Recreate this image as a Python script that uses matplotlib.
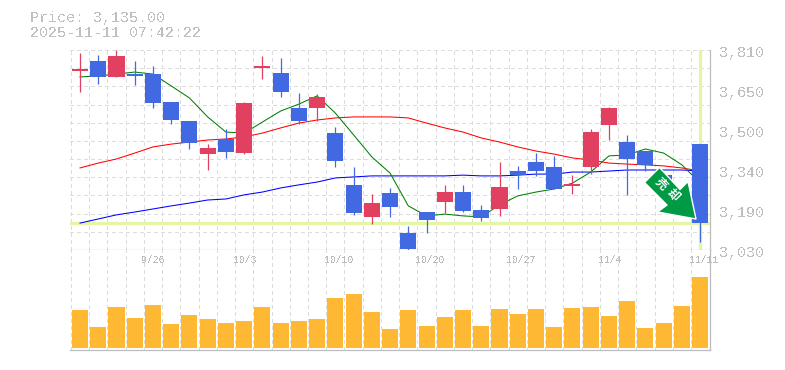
import matplotlib
matplotlib.use("Agg")
import matplotlib.pyplot as plt
from matplotlib.patches import Polygon, Rectangle
from matplotlib.transforms import Affine2D

W, H = 785, 370

title_price = "Price: 3,135.00"
title_time = "2025-11-11 07:42:22"

# candles, oldest first
opens = [3728, 3767, 3705, 3716, 3716, 3607, 3533, 3404, 3463, 3408, 3740, 3720,
         3584, 3584, 3486, 3284, 3159, 3252, 3096, 3178, 3217, 3256, 3186, 3190,
         3338, 3373, 3354, 3280, 3354, 3517, 3451, 3416, 3322, 3264, 3443]
highs = [3798, 3790, 3810, 3767, 3748, 3607, 3533, 3443, 3502, 3607, 3787, 3779,
         3642, 3638, 3510, 3354, 3248, 3272, 3124, 3178, 3284, 3284, 3206, 3373,
         3358, 3408, 3397, 3322, 3502, 3588, 3479, 3416, 3322, 3264, 3443]
lows = [3646, 3677, 3705, 3673, 3584, 3521, 3424, 3342, 3389, 3404, 3697, 3627,
        3521, 3533, 3354, 3167, 3131, 3159, 3030, 3096, 3174, 3178, 3143, 3163,
        3268, 3319, 3268, 3248, 3326, 3459, 3245, 3338, 3245, 3206, 3061]
closes = [3736, 3705, 3787, 3709, 3603, 3537, 3447, 3428, 3412, 3603, 3748, 3646,
          3533, 3627, 3377, 3174, 3213, 3198, 3034, 3147, 3256, 3182, 3155, 3276,
          3322, 3338, 3268, 3287, 3490, 3584, 3385, 3362, 3245, 3206, 3135]
volumes = [38, 21, 41, 30, 43, 24, 33, 29, 25, 27, 41, 25, 27, 29, 50, 54, 36, 19,
           38, 22, 31, 38, 22, 39, 34, 39, 21, 40, 41, 32, 47, 20, 25, 42, 71]

# moving averages
ma_short = [3705, 3709, 3716, 3724, 3716, 3670, 3623, 3549, 3490, 3486, 3529, 3572,
            3599, 3631, 3564, 3479, 3393, 3330, 3202, 3163, 3170, 3163, 3159, 3206,
            3241, 3256, 3268, 3291, 3334, 3397, 3401, 3424, 3408, 3362, 3291]
ma_mid = [3350, 3369, 3385, 3408, 3432, 3443, 3451, 3459, 3463, 3471, 3486, 3506,
          3525, 3537, 3545, 3549, 3549, 3549, 3545, 3525, 3506, 3490, 3467, 3451,
          3432, 3416, 3404, 3389, 3381, 3369, 3365, 3362, 3358, 3350, 3338]
ma_long = [3135, 3151, 3167, 3178, 3190, 3202, 3213, 3225, 3229, 3245, 3256, 3272,
           3284, 3295, 3311, 3315, 3319, 3319, 3319, 3319, 3319, 3322, 3319, 3319,
           3322, 3326, 3326, 3334, 3334, 3338, 3342, 3342, 3342, 3342, 3338]

price_ticks = [3810, 3654, 3498, 3342, 3186, 3030]
price_labels = ["3,810", "3,650", "3,500", "3,340", "3,190", "3,030"]
date_pos = [4, 9, 14, 19, 24, 29, 34]
date_labels = ["9/26", "10/3", "10/10", "10/20", "10/27", "11/4", "11/11"]

last_price = 3135
col_up = "#e24060"
col_down = "#4169e1"
col_vol = "#ffb833"
col_hl = "#e3f6a8"
col_grid = "#dcdcdc"
col_axis = "#bdbdbd"
col_text = "#c0c0c0"
col_arrow = "#009944"

plt.rcParams["font.family"] = ["Liberation Mono", "Noto Sans CJK JP"]
plt.rcParams["text.antialiased"] = False

n = len(closes)
xlim = (-0.548, 34.54)
ymin, ymax = 3030, 3810
price_grid = [ymin + k * (ymax - ymin) / 11 for k in range(12)]
x_grid = [k - 0.5 for k in range(n)]


def box(top, bottom):
    return [70 / W, 1 - bottom / H, 640 / W, (bottom - top) / H]


fig = plt.figure(figsize=(W / 100, H / 100), dpi=100)
ax = fig.add_axes(box(50, 250))
vol = fig.add_axes(box(250, 350))

for a in (ax, vol):
    a.set_xlim(*xlim)
    a.set_xticks(x_grid)
    a.tick_params(length=0, labelbottom=False, labelleft=False)
    a.grid(True, axis="x", color=col_grid, ls=(0, (3, 3)), lw=0.8, zorder=0,
           antialiased=False)
    a.set_axisbelow(True)
    a.spines["top"].set_visible(False)
    a.spines["left"].set_visible(False)
    a.spines["right"].set_color(col_axis)
    a.spines["bottom"].set_color(col_axis)
    a.spines["right"].set_linewidth(0.9)
    a.spines["bottom"].set_linewidth(0.9)

ax.set_ylim(ymin, ymax)
ax.set_yticks(price_grid)
ax.grid(True, axis="y", color=col_grid, ls=(0, (3, 3)), lw=0.8, zorder=0,
        antialiased=False)

# last price crosshair
ax.axhline(last_price, color=col_hl, lw=2.4, zorder=1)
ax.axvline(n - 1, color=col_hl, lw=2.4, zorder=1)

ax.plot(range(n), ma_long, color="#0000ff", lw=0.75, zorder=2)
ax.plot(range(n), ma_mid, color="#ff0000", lw=0.75, zorder=2)
ax.plot(range(n), ma_short, color="#008000", lw=0.75, zorder=2)

for i in range(n):
    c = col_up if closes[i] >= opens[i] else col_down
    ax.plot([i, i], [lows[i], highs[i]], color=c, lw=0.9, zorder=3,
            solid_capstyle="butt", clip_on=False)
    ax.add_patch(Rectangle((i - 0.44, min(opens[i], closes[i])), 0.88,
                           abs(closes[i] - opens[i]), facecolor=c,
                           edgecolor="none", zorder=3))

vol.bar(range(n), volumes, width=0.88, color=col_vol, zorder=2)
vol.set_ylim(-2, 98)
vol.set_yticks([])

# price labels on the right, nudged a few px under their level
for p, s in zip(price_ticks, price_labels):
    ax.annotate(s, (1, p), xycoords=("axes fraction", "data"), xytext=(6.5, -2.2),
                textcoords="offset points", color=col_text, fontsize=10.8,
                ha="left", va="center", annotation_clip=False)

for i, s in zip(date_pos, date_labels):
    vol.annotate(s, (i, 1), xycoords=("data", "axes fraction"), xytext=(-8, -7.2),
                 textcoords="offset points", color="#bcbcbc", fontsize=7,
                 ha="left", va="center", annotation_clip=False)

fig.text(30 / W, 1 - 18 / H, title_price, color=col_text, fontsize=10.8, va="center")
fig.text(30 / W, 1 - 33 / H, title_time, color=col_text, fontsize=10.8, va="center")

# signal badge, drawn in pixel space
px = Affine2D().scale(1, -1).translate(0, H)
arrow = [(659.5, 167.5), (644.5, 182.5), (667, 205), (657.5, 212),
         (696, 219), (688, 181.5), (680, 189.5)]
fig.add_artist(Polygon(arrow, closed=True, facecolor=col_arrow, edgecolor="white",
                       lw=1.0, joinstyle="round", transform=px, zorder=5))
fig.text(660.5 / W, 1 - 184 / H, "売", color="white", fontsize=8.5, rotation=-45,
         ha="center", va="center", fontweight="bold", zorder=6, antialiased=True)
fig.text(672.5 / W, 1 - 195 / H, "却", color="white", fontsize=8.5, rotation=-45,
         ha="center", va="center", fontweight="bold", zorder=6, antialiased=True)

fig.savefig("out.png", dpi=100, facecolor="white")
